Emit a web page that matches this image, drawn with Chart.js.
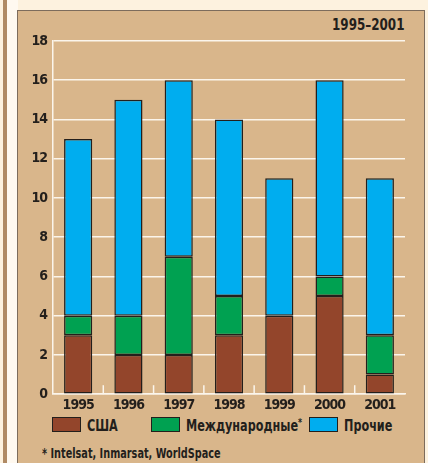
<!DOCTYPE html>
<html><head><meta charset="utf-8">
<script src="https://cdn.jsdelivr.net/npm/chart.js@4"></script>
<style>
html,body{margin:0;padding:0;}
body{width:428px;height:463px;background:#fdf2df;position:relative;overflow:hidden;font-family:"DejaVu Sans Condensed","DejaVu Sans",sans-serif;font-stretch:condensed;color:#231f1c;}
#strip{position:absolute;left:3px;top:0;width:4px;height:463px;background:#b08a64;}
#inner{position:absolute;left:7px;top:0;width:11px;height:463px;background:#fff9f0;}
#panel{position:absolute;left:17px;top:10px;width:406px;height:460px;background:#d9b68b;border:1px solid #7d6c5c;}
.sq{position:absolute;white-space:nowrap;font-weight:bold;transform-origin:0 50%;line-height:1;}
#title{left:332px;top:17px;font-size:16px;transform:scaleX(0.83);}
#note{left:42px;top:447px;font-size:13.5px;transform:scaleX(0.8);}
.lgt{top:418px;font-size:16px;transform:scaleX(0.78);}
.lgt sup{font-size:11px;vertical-align:top;position:relative;top:-1px;}
.box{position:absolute;top:417px;width:27px;height:13px;border:1.5px solid #231f1c;}
canvas{position:absolute;left:0;top:0;}
</style></head>
<body>
<div id="strip"></div><div id="inner"></div><div id="panel"></div>
<div id="title" class="sq">1995–2001</div>
<div id="legend"></div>
<div id="note" class="sq">* Intelsat, Inmarsat, WorldSpace</div>
<canvas id="c" width="428" height="463"></canvas>
<script>
const years = ['1995','1996','1997','1998','1999','2000','2001'];
const usa = [3, 2, 2, 3, 4, 5, 1];
const intl = [1, 2, 5, 2, 0, 1, 2];
const other = [9, 11, 9, 9, 7, 10, 8];
const seriesNames = ['США', 'Международные*', 'Прочие'];
const colors = ['#93452b', '#00a151', '#00adef'];

const font = "'DejaVu Sans Condensed','DejaVu Sans',sans-serif";
const ink = '#231f1c';

// HTML legend
const legendX = [52, 151, 309];
const lg = document.getElementById('legend');
seriesNames.forEach((n, i) => {
  const b = document.createElement('div');
  b.className = 'box';
  b.style.left = legendX[i] + 'px';
  b.style.background = colors[i];
  lg.appendChild(b);
  const t = document.createElement('div');
  t.className = 'sq lgt';
  t.style.left = (legendX[i] + 35) + 'px';
  if (n.endsWith('*')) {
    t.textContent = n.slice(0, -1);
    const s = document.createElement('sup');
    s.textContent = '*';
    t.appendChild(s);
  } else {
    t.textContent = n;
  }
  lg.appendChild(t);
});

const tightText = {
  id: 'tightText',
  beforeInit(chart) { chart.ctx.letterSpacing = '-1px'; },
  beforeDraw(chart) { chart.ctx.letterSpacing = '-1px'; }
};

const boundaryTicks = {
  id: 'boundaryTicks',
  beforeDatasetsDraw(chart) {
    const x = chart.scales.x, y = chart.scales.y;
    const ctx = chart.ctx;
    const y0 = y.getPixelForValue(0);
    ctx.save();
    ctx.strokeStyle = '#fbf5ec';
    ctx.lineWidth = 1.5;
    for (let i = 0; i < years.length - 1; i++) {
      const xb = (x.getPixelForTick(i) + x.getPixelForTick(i + 1)) / 2;
      ctx.beginPath();
      ctx.moveTo(xb, y0);
      ctx.lineTo(xb, y0 - 9);
      ctx.stroke();
    }
    ctx.restore();
  }
};

new Chart(document.getElementById('c'), {
  type: 'bar',
  data: {
    labels: years,
    datasets: [usa, intl, other].map((d, i) => ({
      label: seriesNames[i],
      data: d,
      backgroundColor: colors[i],
      borderColor: '#231f1c',
      borderWidth: 1.5,
      borderSkipped: false,
      categoryPercentage: 1,
      barPercentage: 0.56
    }))
  },
  options: {
    responsive: false,
    animation: false,
    layout: {padding: {left: 18, right: 23, top: 41, bottom: 46}},
    plugins: {
      title: {display: false},
      tooltip: {enabled: false},
      legend: {display: false}
    },
    scales: {
      x: {
        stacked: true,
        grid: {display: false, drawTicks: false},
        border: {display: true, color: '#fbf5ec', width: 1.5},
        ticks: {color: ink, font: {family: font, size: 14, weight: 'bold'}, padding: 3}
      },
      y: {
        stacked: true,
        min: 0, max: 18,
        afterFit(s) { s.width = 35; },
        grid: {color: '#fbf5ec', lineWidth: 1.5, drawTicks: false},
        border: {display: true, color: '#fbf5ec', width: 1.5},
        ticks: {stepSize: 2, color: ink, font: {family: font, size: 14, weight: 'bold'}, padding: 6}
      }
    }
  },
  plugins: [tightText, boundaryTicks]
});
</script>
</body></html>
